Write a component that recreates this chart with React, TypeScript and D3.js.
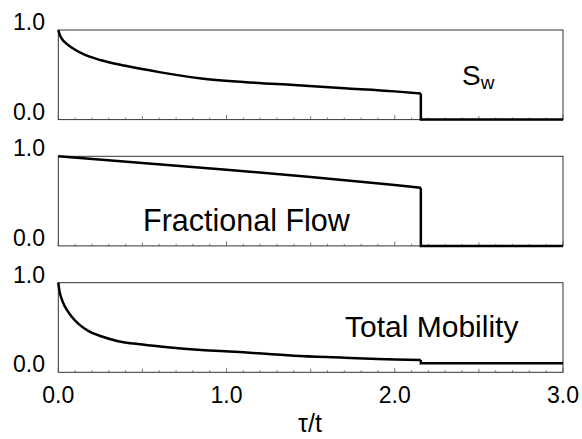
import React from "react";
import * as d3 from "d3";

// τ/t positions and values for each panel
const swX = [0, 0.01, 0.03, 0.06, 0.1, 0.15, 0.25, 0.4, 0.6, 0.85, 1.1, 1.4, 1.7, 2.0, 2.155];
const swY = [1.0, 0.94, 0.88, 0.83, 0.78, 0.73, 0.665, 0.6, 0.53, 0.46, 0.42, 0.385, 0.35, 0.315, 0.29];

const ffX = [0, 0.5, 1.0, 1.5, 2.0, 2.155];
const ffY = [1.0, 0.925, 0.85, 0.77, 0.68, 0.65];

const tmX = [0, 0.005, 0.01, 0.02, 0.035, 0.05, 0.08, 0.12, 0.18, 0.25, 0.35, 0.5, 0.65, 0.85, 1.05, 1.4, 1.7, 1.9, 2.155];
const tmY = [1.0, 0.93, 0.88, 0.82, 0.75, 0.7, 0.62, 0.54, 0.46, 0.405, 0.35, 0.31, 0.28, 0.25, 0.23, 0.185, 0.163, 0.148, 0.137];

const shockX = 2.155;
const tailValues = [0, 0, 0.1]; // value after the shock, per panel
const xMax = 3.0;

const xTickLabels = ["0.0", "1.0", "2.0", "3.0"];
const xTickValues = [0, 1, 2, 3];
const yTickLabels = ["0.0", "1.0"];
const yTickValues = [0, 1];

const panels = [
  { xs: swX, ys: swY },
  { xs: ffX, ys: ffY },
  { xs: tmX, ys: tmY },
];

const W = 582;
const H = 439;
const left = 58.3;
const right = 563;
const panelTops = [30, 156.3, 282.7];
const panelH = 89.6;
const font = "'Liberation Sans', Arial, Helvetica, sans-serif";

export default function App() {
  const x = d3.scaleLinear().domain([0, 3]).range([left, right]);
  const minorTicks = d3.range(0, 31).map((i) => i / 10);

  return (
    <svg
      width={W}
      height={H}
      style={{ position: "absolute", left: 0, top: 0, background: "#fff" }}
      fontFamily={font}
    >
      {panels.map((p, i) => {
        const top = panelTops[i];
        const y = d3.scaleLinear().domain([0, 1]).range([top + panelH, top]);
        const pts: [number, number][] = p.xs.map((v, k) => [v, p.ys[k]]);
        const curve = d3
          .line<[number, number]>()
          .x((d) => x(d[0]))
          .y((d) => y(d[1]))
          .curve(i === 1 ? d3.curveLinear : d3.curveMonotoneX)(pts) as string;
        const tail = d3
          .line<[number, number]>()
          .x((d) => x(d[0]))
          .y((d) => y(d[1]))([
          [shockX, p.ys[p.ys.length - 1]],
          [shockX, tailValues[i]],
          [xMax, tailValues[i]],
        ]) as string;
        return (
          <g key={i}>
            <rect
              x={x(0)}
              y={y(1)}
              width={x(3) - x(0)}
              height={y(0) - y(1)}
              fill="none"
              stroke="#333"
              strokeWidth={1}
            />
            {minorTicks.map((t, k) => {
              const len = k % 10 === 0 ? 4.5 : k % 5 === 0 ? 3.5 : 2;
              return (
                <line
                  key={k}
                  x1={x(t)}
                  x2={x(t)}
                  y1={y(0)}
                  y2={y(0) - len}
                  stroke="#555"
                  strokeWidth={0.8}
                />
              );
            })}
            <path d={curve} fill="none" stroke="#000" strokeWidth={2.5} />
            <path d={tail} fill="none" stroke="#000" strokeWidth={2.5} />
            {yTickValues.map((v, k) => (
              <text
                key={k}
                x={45}
                y={y(v)}
                textAnchor="end"
                fontSize={23}
                fill="#000"
              >
                {yTickLabels[k]}
              </text>
            ))}
          </g>
        );
      })}

      {xTickValues.map((v, k) => (
        <text key={k} x={x(v)} y={403} textAnchor="middle" fontSize={23} fill="#000">
          {xTickLabels[k]}
        </text>
      ))}

      <text x={310} y={432} textAnchor="middle" fontSize={25} fill="#000">
        τ/t
      </text>

      <text x={462} y={85} fontSize={28} fill="#000">
        S
        <tspan fontSize={19} dy={4}>
          w
        </tspan>
      </text>
      <text x={143} y={231} fontSize={30.5} fill="#000">
        Fractional Flow
      </text>
      <text x={345} y={337} fontSize={30} fill="#000">
        Total Mobility
      </text>
    </svg>
  );
}
